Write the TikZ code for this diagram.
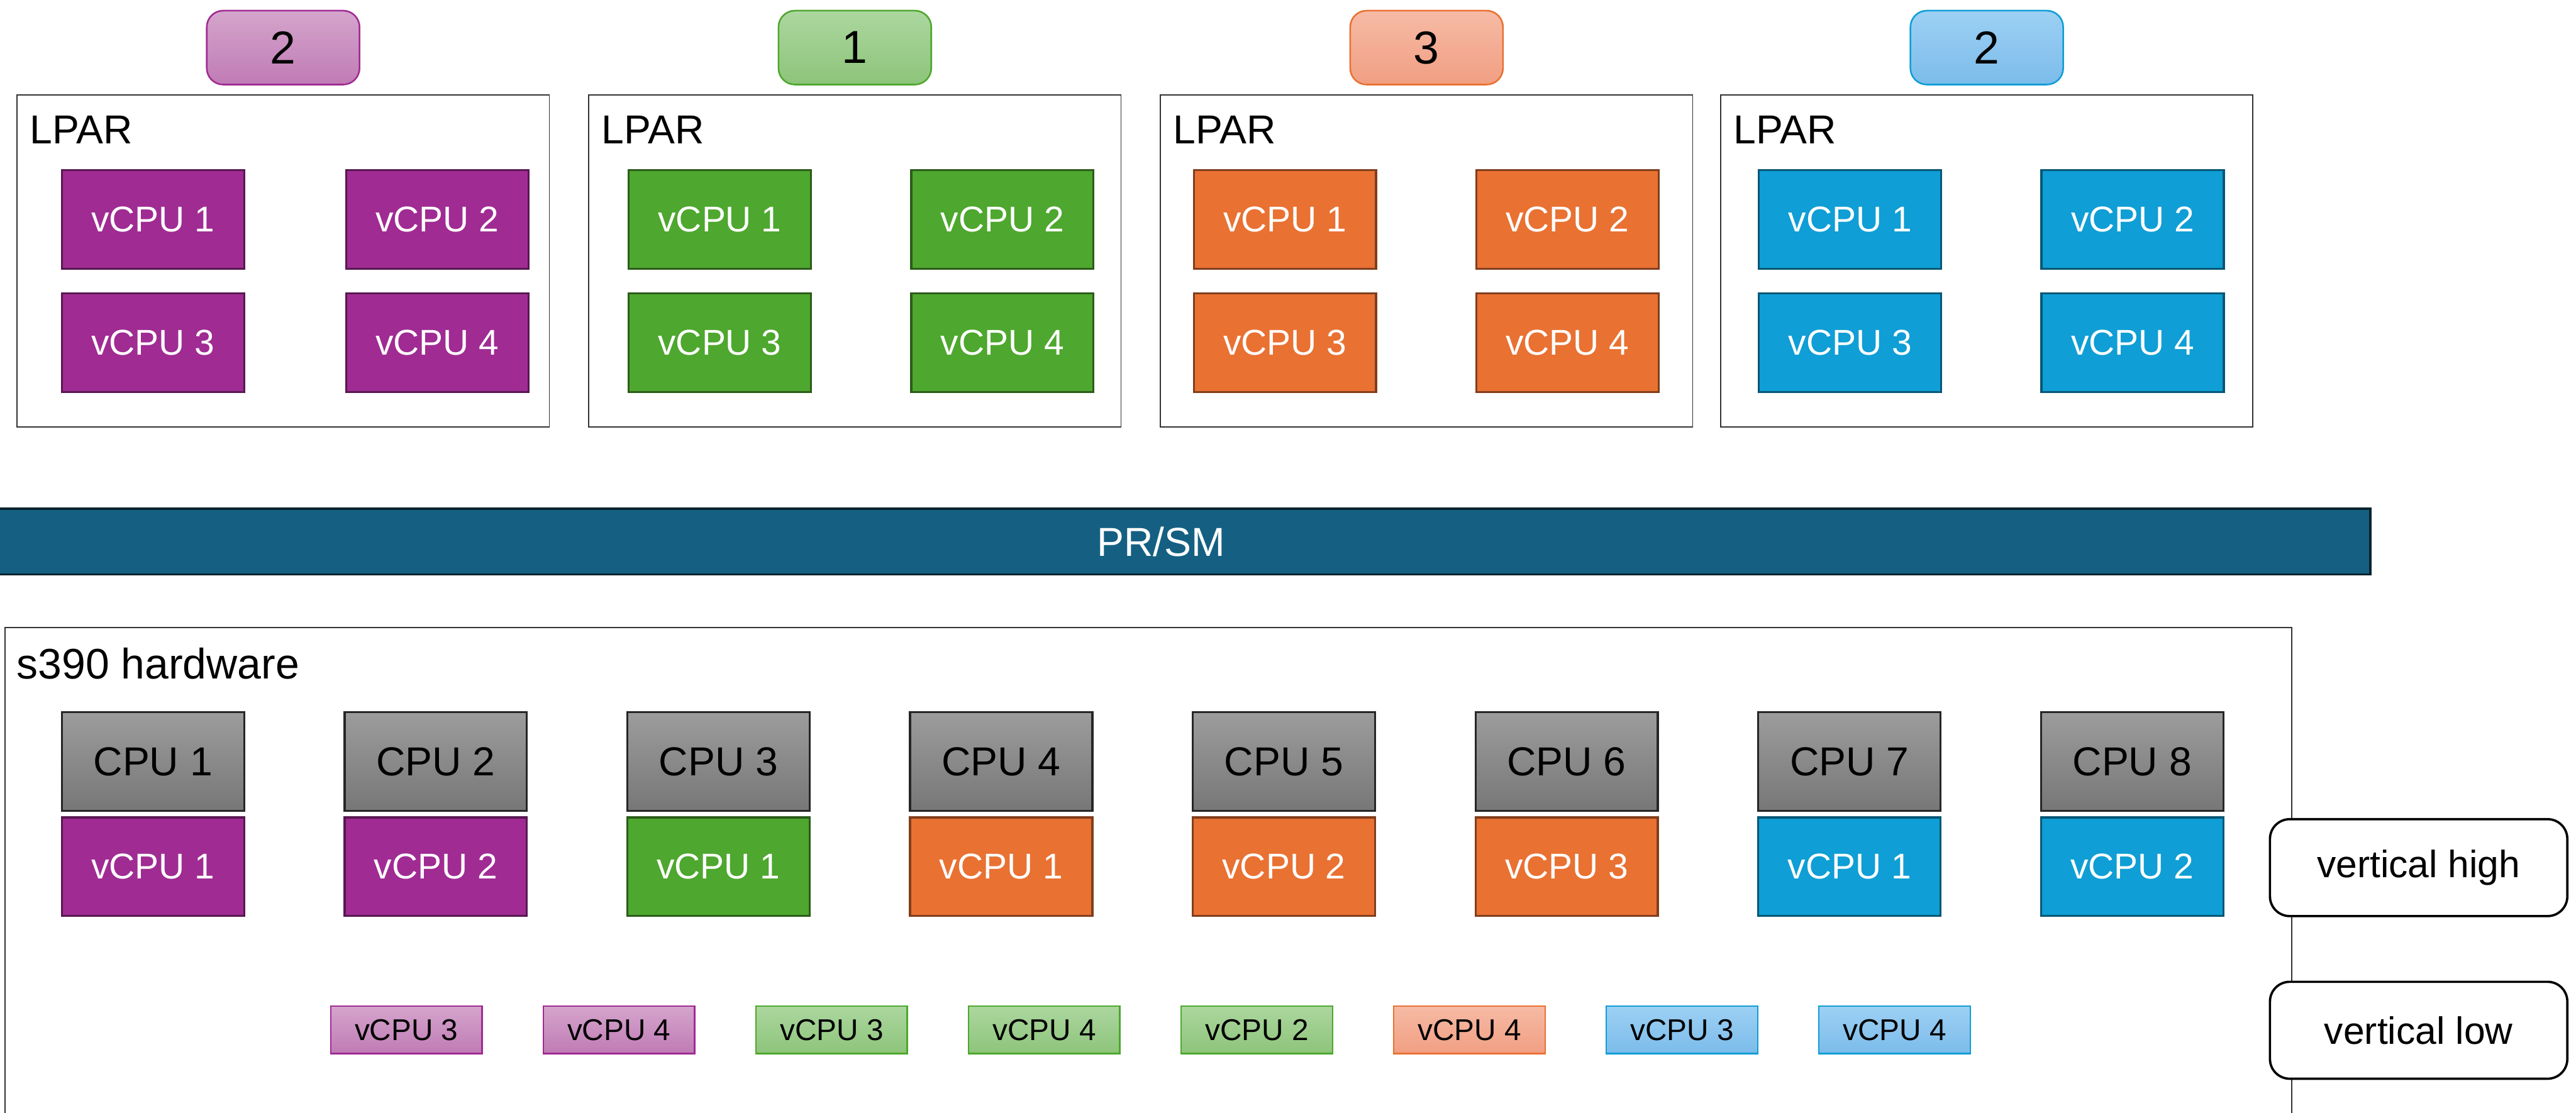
\documentclass[tikz,border=0pt]{standalone}
\usepackage{fontspec}
\setmainfont{Liberation Sans}

% theme colours
\definecolor{cpurple}{HTML}{A02B93}
\definecolor{cgreen}{HTML}{4EA72E}
\definecolor{corange}{HTML}{E97132}
\definecolor{cblue}{HTML}{0F9ED5}
\definecolor{cteal}{HTML}{156082}
% light gradient pairs
\definecolor{purpleT}{HTML}{D4A5CC}\definecolor{purpleB}{HTML}{C07BB5}
\definecolor{greenT}{HTML}{ACD79F}\definecolor{greenB}{HTML}{8DC47A}
\definecolor{orangeT}{HTML}{F6BAA5}\definecolor{orangeB}{HTML}{F19F82}
\definecolor{blueT}{HTML}{9DD0F4}\definecolor{blueB}{HTML}{7BBCEA}
\definecolor{grayT}{HTML}{9C9C9C}\definecolor{grayB}{HTML}{777777}

\tikzset{
  fsz/.style={font=\fontsize{#1}{#1}\selectfont},
  vcpu/.style={draw=#1!55!black, fill=#1, line width=1.8pt, text=white,
    minimum width=55.5mm, minimum height=30mm, inner sep=0pt, anchor=north west, fsz=31pt},
  cpubox/.style={draw=black!85, top color=grayT, bottom color=grayB, line width=1.8pt,
    minimum width=55.5mm, minimum height=30mm, inner sep=0pt, anchor=north west, fsz=35pt},
  lowbox/.style={draw=c#1, top color=#1T, bottom color=#1B, line width=1.2pt,
    minimum width=46mm, minimum height=14.5mm, inner sep=0pt, anchor=north west, fsz=26pt},
  badge/.style={draw=c#1, top color=#1T, bottom color=#1B, line width=1.4pt,
    rounded corners=5mm, minimum width=46.5mm, minimum height=22.5mm, inner sep=0pt,
    anchor=north, fsz=40pt},
  lparbox/.style={draw=black!80, line width=1pt, minimum width=162mm, minimum height=101mm,
    inner sep=0pt, anchor=north west},
  tagbox/.style={draw=black, fill=white, line width=2pt, rounded corners=6mm,
    minimum width=90.5mm, minimum height=29.5mm, inner sep=0pt, anchor=north west, fsz=33pt},
}

\begin{document}
\begin{tikzpicture}[x=0.5mm, y=-0.5mm]
\useasboundingbox (0,0) rectangle (1568,677.4);
\clip (0,0) rectangle (1568,677.4);

% logical partitions with their weight badges
\foreach \i/\lx/\col/\w in {1/10/purple/2, 2/358/green/1, 3/706/orange/3, 4/1047/blue/2}{
  \node[lparbox] (lpar\i) at (\lx,57.5) {};
  \node[badge=\col] (weight\i) at (lpar\i.north |- 0,6) {\w};
  \node[anchor=west, fsz=35pt, inner sep=0pt] (lparlabel\i) at (\lx+8,79) {LPAR};
}
\foreach \i/\ca/\cb/\col in {1/37/210/cpurple, 2/382/554/cgreen, 3/726/898/corange, 4/1070/1242/cblue}{
  \node[vcpu=\col] (l\i v1) at (\ca,103) {vCPU 1};
  \node[vcpu=\col] (l\i v2) at (\cb,103) {vCPU 2};
  \node[vcpu=\col] (l\i v3) at (\ca,178) {vCPU 3};
  \node[vcpu=\col] (l\i v4) at (\cb,178) {vCPU 4};
}

% hypervisor layer (runs off the left edge)
\node[fill=cteal, draw=cteal!35!black, line width=2pt, minimum width=736mm,
  minimum height=20mm, inner sep=0pt, anchor=north west, text=white, fsz=35pt]
  (prsm) at (-30,309) {PR/SM};

% physical machine
\draw[black!80, line width=1pt] (3,720) -- (3,382) -- (1395,382) -- (1395,720);
\node[anchor=west, fsz=37pt, inner sep=0pt] (hwlabel) at (10,404) {s390 hardware};

\foreach \k/\col/\n in {1/cpurple/1, 2/cpurple/2, 3/cgreen/1, 4/corange/1,
                        5/corange/2, 6/corange/3, 7/cblue/1, 8/cblue/2}{
  \node[cpubox] (cpu\k) at ({37+172.1*(\k-1)},433) {CPU \k};
  \node[vcpu=\col] (high\k) at ({37+172.1*(\k-1)},497) {vCPU \n};
}

\foreach \k/\col/\n in {1/purple/3, 2/purple/4, 3/green/3, 4/green/4,
                        5/green/2, 6/orange/4, 7/blue/3, 8/blue/4}{
  \node[lowbox=\col] (low\k) at ({201+129.4*(\k-1)},612) {vCPU \n};
}

% priority tags
\node[tagbox] (vhigh) at (1381,498) {vertical high};
\node[tagbox] (vlow) at (1381,597) {vertical low};
\end{tikzpicture}
\end{document}
